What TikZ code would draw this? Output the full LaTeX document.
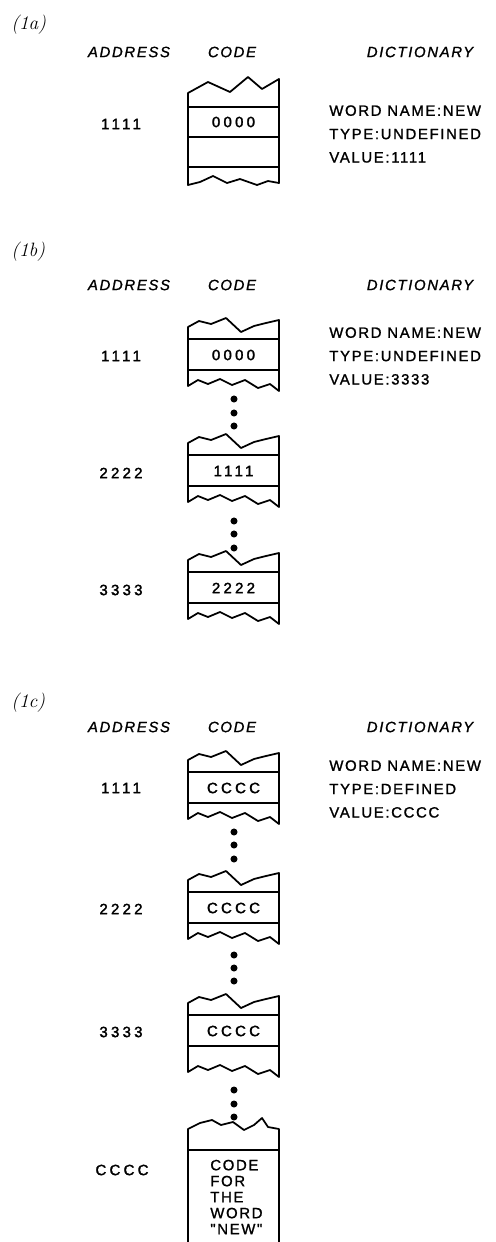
\documentclass[tikz,border=0pt]{standalone}
\usepackage{fontspec}
\newfontfamily\labelsans[LetterSpace=11,FakeBold=1.2]{Liberation Sans}
\newfontfamily\numsans[LetterSpace=22,FakeBold=2]{Liberation Sans}
\tikzset{
  celldrop/.store in=\celldrop, celldrop=0,
  cell/.pic={
    \draw[box] (188,0) -- (279,0) (188,31) -- (279,31);
    \draw[box] (188,{47+\celldrop}) -- (188,-12) -- (199,-18) -- (211,-15) -- (226,-21) -- (241,-7) -- (254,-13) -- (266,-16) -- (279,-19) -- (279,{52+\celldrop}) -- (270,{45+\celldrop}) -- (258,{49+\celldrop}) -- (245,{41+\celldrop}) -- (232,{46+\celldrop}) -- (220,{40+\celldrop}) -- (208,{45+\celldrop}) -- (198,{41+\celldrop}) -- cycle;
  }
}

\begin{document}
\begin{tikzpicture}[x=0.02cm, y=-0.02cm,
  box/.style={line width=1pt, line join=round},
  panel/.style={font=\itshape\fontsize{11}{13}\selectfont, anchor=west, inner sep=0pt},
  colhead/.style={font=\labelsans\itshape\fontsize{8.5}{10}\selectfont, inner sep=0pt},
  addr/.style={font=\numsans\fontsize{8.5}{10}\selectfont, inner sep=0pt},
  val/.style={font=\numsans\fontsize{8.5}{10}\selectfont, inner sep=0pt},
  dict/.style={font=\labelsans\fontsize{8.5}{13.3}\selectfont, align=left, anchor=west, inner sep=0pt}]
  \useasboundingbox[fill=white] (0,0) rectangle (495,1242);

  \node[panel] (la) at (11,25) {(1a)};
  \node[colhead] (addra) at (129,52) {ADDRESS};
  \node[colhead] (codea) at (232,52) {CODE};
  \node[colhead] (dicta) at (420,52) {DICTIONARY};
  \draw[box] (188,107) -- (279,107) (188,137) -- (279,137) (188,167) -- (279,167);
  \draw[box] (188,185) -- (188,93) -- (208,82) -- (230,92) -- (248,77) -- (262,89) -- (279,79) -- (279,183) -- (268,181) -- (257,185) -- (240,179) -- (227,183) -- (213,176) -- (200,182) -- cycle;
  \node[addr] (a1a) at (121,124) {1111};
  \node[val] (v1a) at (233.5,122) {0000};
  \node[dict] (da) at (329,134) {WORD NAME:NEW\\TYPE:UNDEFINED\\VALUE:1111};

  \node[panel] (lb) at (11,252) {(1b)};
  \node[colhead] (addrb) at (129,285) {ADDRESS};
  \node[colhead] (codeb) at (232,285) {CODE};
  \node[colhead] (dictb) at (420,285) {DICTIONARY};
  \pic at (0,339) {cell};
  \node[addr] (a1b) at (121,356) {1111};
  \node[val] (v1b) at (233.5,355) {0000};
  \fill (234,399) circle[radius=2pt] (234,413) circle[radius=2pt] (234,426) circle[radius=2pt];
  \pic at (0,455) {cell};
  \node[addr] (a2b) at (121,473) {2222};
  \node[val] (v2b) at (233.5,471) {1111};
  \fill (234,521) circle[radius=2pt] (234,534) circle[radius=2pt] (234,548) circle[radius=2pt];
  \pic at (0,572) {cell};
  \node[addr] (a3b) at (121,590) {3333};
  \node[val] (v3b) at (233.5,588) {2222};
  \node[dict] (db) at (329,356) {WORD NAME:NEW\\TYPE:UNDEFINED\\VALUE:3333};

  \node[panel] (lc) at (11,703) {(1c)};
  \node[colhead] (addrc) at (129,727) {ADDRESS};
  \node[colhead] (codec) at (232,727) {CODE};
  \node[colhead] (dictc) at (420,727) {DICTIONARY};
  \pic at (0,772) {cell};
  \node[addr] (a1c) at (121,788) {1111};
  \node[val] (v1c) at (233.5,788) {CCCC};
  \fill (234,832) circle[radius=2pt] (234,845) circle[radius=2pt] (234,859) circle[radius=2pt];
  \pic at (0,892) {cell};
  \node[addr] (a2c) at (121,909) {2222};
  \node[val] (v2c) at (233.5,908) {CCCC};
  \fill (234,955) circle[radius=2pt] (234,968) circle[radius=2pt] (234,981) circle[radius=2pt];
  \pic[celldrop=10] at (0,1015) {cell};
  \node[addr] (a3c) at (121,1032) {3333};
  \node[val] (v3c) at (233.5,1031) {CCCC};
  \fill (234,1090) circle[radius=2pt] (234,1104) circle[radius=2pt] (234,1117) circle[radius=2pt];
  \draw[box] (188,1150) -- (279,1150);
  \draw[box] (188,1250) -- (188,1129) -- (200,1123) -- (212,1120) -- (221,1125) -- (233,1122) -- (244,1130) -- (254,1125) -- (262,1118) -- (268,1127) -- (279,1129) -- (279,1250);
  \node[addr] (a4c) at (122,1170) {CCCC};
  \node[dict, font=\labelsans\fontsize{8.5}{9.1}\selectfont] (v4c) at (210,1197) {CODE\\FOR\\THE\\WORD\\"NEW"};
  \node[dict] (dc) at (329,789) {WORD NAME:NEW\\TYPE:DEFINED\\VALUE:CCCC};
\end{tikzpicture}
\end{document}
